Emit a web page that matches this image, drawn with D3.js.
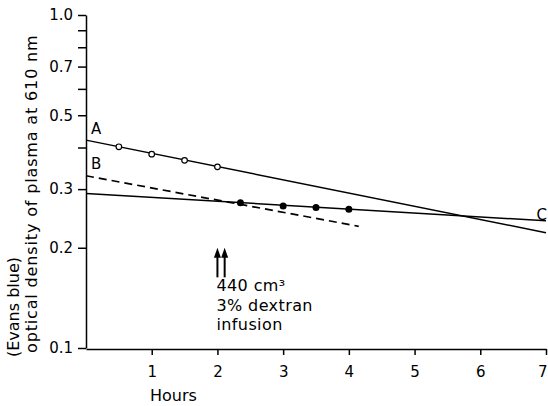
<!DOCTYPE html>
<html>
<head>
<meta charset="utf-8">
<script src="https://cdn.jsdelivr.net/npm/d3@7"></script>
<style>
  body { margin: 0; background: #fff; }
  svg text { font-family: "DejaVu Sans", sans-serif; fill: #000; }
</style>
</head>
<body>
<svg id="chart"></svg>
<script>
// values
var lineA_hours = [0, 7];
var lineA_values = [0.421, 0.222];
var lineB_hours = [0, 4.15];
var lineB_values = [0.329, 0.232];
var lineC_hours = [0, 7];
var lineC_values = [0.291, 0.241];

var open_hours = [0.5, 1, 1.5, 2];
var open_values = [0.402, 0.382, 0.366, 0.350];
var filled_hours = [2.35, 3, 3.5, 4];
var filled_values = [0.273, 0.267, 0.264, 0.261];

var arrow_hours = [2.0, 2.11];
var arrow_from = 0.163, arrow_to = 0.2;

var x_ticks = [1, 2, 3, 4, 5, 6, 7];
var y_ticks = [0.1, 0.2, 0.3, 0.4, 0.5, 0.6, 0.7, 0.8, 0.9, 1.0];
var y_labelled = ["0.1", "0.2", "0.3", "0.5", "0.7", "1.0"];

var note_lines = ["440 cm\u00b3", "3% dextran", "infusion"];

var margin = {top: 15, right: 2, bottom: 58, left: 86},
    width = 548 - margin.left - margin.right,
    height = 406 - margin.top - margin.bottom;

var svg = d3.select("svg#chart")
  .attr("width", 548)
  .attr("height", 406);

var g = svg.append("g").attr("transform", "translate(" + margin.left + "," + margin.top + ")");

var x = d3.scaleLinear()
  .domain([0, 7])
  .range([0, 460]);

var y = d3.scaleLog()
  .domain([0.1, 1.0])
  .range([333, 0]);

function zip(hs, vs) {
  return hs.map(function(h, i) { return {X: h, Y: vs[i]}; });
}

var line = d3.line()
  .x(function(d) { return x(d.X); })
  .y(function(d) { return y(d.Y); });

// x axis
var xa = g.append("g")
  .attr("transform", "translate(0,334)")
  .call(d3.axisBottom(x).tickValues(x_ticks).tickSize(6).tickSizeOuter(0).tickFormat(d3.format("d")));
xa.selectAll("text").attr("font-size", 15).attr("dy", "0").attr("y", 28);
// last label sits on the right edge
xa.selectAll("text").filter(function(d) { return d === 7; }).attr("text-anchor", "end").attr("x", 1);

// y axis
var ya = g.append("g")
  .call(d3.axisLeft(y).tickValues(y_ticks).tickSize(8).tickSizeOuter(0)
    .tickFormat(function(d) {
      var s = d3.format(".1f")(d);
      return y_labelled.indexOf(s) >= 0 ? s : "";
    }));
ya.selectAll("text").attr("font-size", 15).attr("x", -13);

svg.selectAll(".domain, .tick line")
  .attr("stroke", "#000")
  .attr("stroke-width", 1.5);

// fitted lines
g.append("path")
  .datum(zip(lineA_hours, lineA_values))
  .attr("fill", "none").attr("stroke", "#000").attr("stroke-width", 1.5)
  .attr("d", line);

g.append("path")
  .datum(zip(lineB_hours, lineB_values))
  .attr("fill", "none").attr("stroke", "#000").attr("stroke-width", 1.7)
  .attr("stroke-dasharray", "8,5")
  .attr("d", line);

g.append("path")
  .datum(zip(lineC_hours, lineC_values))
  .attr("fill", "none").attr("stroke", "#000").attr("stroke-width", 1.5)
  .attr("d", line);

// points
g.selectAll(".open")
  .data(zip(open_hours, open_values))
  .enter().append("circle")
  .attr("cx", function(d) { return x(d.X); })
  .attr("cy", function(d) { return y(d.Y); })
  .attr("r", 2.8)
  .attr("fill", "#fff").attr("stroke", "#000").attr("stroke-width", 1.2);

g.selectAll(".filled")
  .data(zip(filled_hours, filled_values))
  .enter().append("circle")
  .attr("cx", function(d) { return x(d.X); })
  .attr("cy", function(d) { return y(d.Y); })
  .attr("r", 3.5)
  .attr("fill", "#000");

// line labels
g.append("text").attr("x", x(lineA_hours[0]) + 5).attr("y", y(lineA_values[0]) - 6)
  .attr("font-size", 15).text("A");
g.append("text").attr("x", x(lineB_hours[0]) + 5).attr("y", y(lineB_values[0]) - 7)
  .attr("font-size", 15).text("B");
g.append("text").attr("x", x(7) + 1).attr("y", y(lineC_values[1]) - 1)
  .attr("text-anchor", "end")
  .attr("font-size", 15).text("C");

// infusion arrows
arrow_hours.forEach(function(h) {
  var ax = x(h), y0 = y(arrow_from), y1 = y(arrow_to);
  g.append("line")
    .attr("x1", ax).attr("x2", ax)
    .attr("y1", y0).attr("y2", y1 + 6)
    .attr("stroke", "#000").attr("stroke-width", 2);
  g.append("path")
    .attr("d", "M" + (ax - 3.5) + "," + (y1 + 10) + "L" + ax + "," + y1 + "L" + (ax + 3.5) + "," + (y1 + 10) + "Z")
    .attr("fill", "#000");
});

g.selectAll(".note")
  .data(note_lines)
  .enter().append("text")
  .attr("x", x(arrow_hours[0]) - 1)
  .attr("y", function(d, i) { return y(arrow_from) + 14 + i * 19.5; })
  .attr("font-size", 16)
  .attr("letter-spacing", 0.4)
  .text(function(d) { return d; });

// axis titles
svg.append("text")
  .attr("x", 150).attr("y", 401)
  .attr("font-size", 16)
  .text("Hours");

svg.append("text")
  .attr("transform", "translate(19,357) rotate(-90)")
  .attr("font-size", 16)
  .text("(Evans blue)");

svg.append("text")
  .attr("transform", "translate(37,353) rotate(-90)")
  .attr("font-size", 16)
  .attr("letter-spacing", 0.85)
  .text("optical density of plasma at 610 nm");
</script>
</body>
</html>
